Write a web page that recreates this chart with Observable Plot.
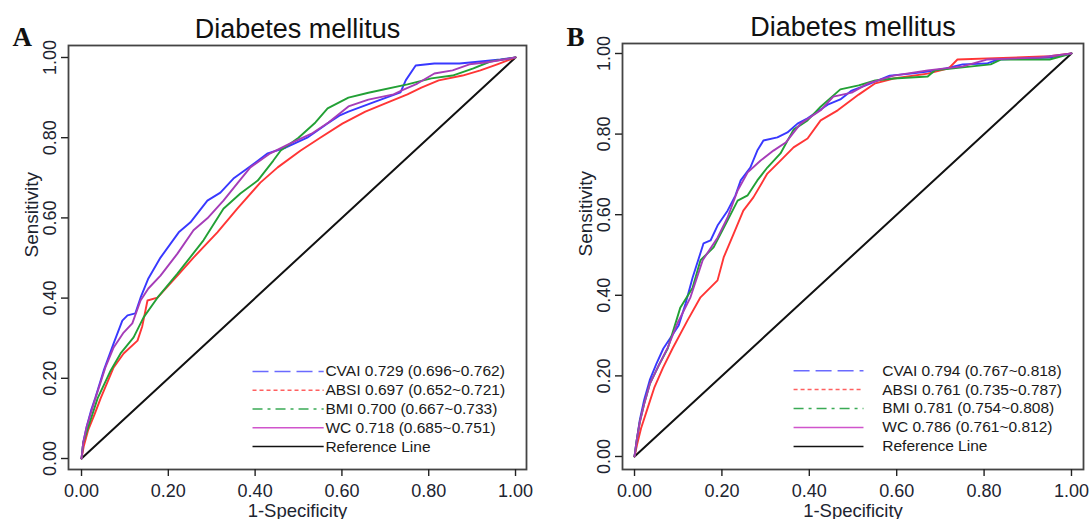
<!DOCTYPE html>
<html><head><meta charset="utf-8">
<script src="https://cdn.jsdelivr.net/npm/d3@7"></script>
<script src="https://cdn.jsdelivr.net/npm/@observablehq/plot@0.6"></script>
<style>
html,body{margin:0;padding:0;background:#fff;}
#wrap{position:relative;width:1090px;height:519px;overflow:hidden;background:#fff;}
#wrap > svg{position:absolute;top:0;overflow:visible;}
</style></head><body><div id="wrap"></div>
<script>
// ---------- data ----------
const titleText = "Diabetes mellitus";
const xLabel = "1-Specificity";
const yLabel = "Sensitivity";
const tickValues = [0, 0.2, 0.4, 0.6, 0.8, 1];
const tickLabels = ["0.00", "0.20", "0.40", "0.60", "0.80", "1.00"];
const seriesNames = ["CVAI", "ABSI", "BMI", "WC"];
const curveColors = ["#3838ff", "#ff3535", "#22a035", "#a53cb8"];
const legendColors = ["#6a6aff", "#ff6060", "#3aaa55", "#d055cc", "#111111"];
const legendDash = ["16,6", "4,3", "10,5,3,5", null, null];
const referenceLine = [[0, 0], [1, 1]];

const labelsA = ["CVAI 0.729 (0.696~0.762)", "ABSI 0.697 (0.652~0.721)", "BMI 0.700 (0.667~0.733)", "WC 0.718 (0.685~0.751)", "Reference Line"];
const labelsB = ["CVAI 0.794 (0.767~0.818)", "ABSI 0.761 (0.735~0.787)", "BMI 0.781 (0.754~0.808)", "WC 0.786 (0.761~0.812)", "Reference Line"];

// Panel A ROC points [1-specificity, sensitivity]
const A_CVAI = [[0,0],[0.004,0.04],[0.012,0.08],[0.022,0.12],[0.032,0.152],[0.051,0.219],[0.074,0.287],[0.094,0.344],[0.106,0.357],[0.124,0.362],[0.136,0.401],[0.154,0.449],[0.182,0.501],[0.224,0.564],[0.251,0.589],[0.290,0.643],[0.320,0.663],[0.350,0.698],[0.382,0.723],[0.429,0.761],[0.47,0.775],[0.52,0.80],[0.566,0.835],[0.594,0.855],[0.615,0.865],[0.677,0.890],[0.735,0.913],[0.747,0.943],[0.770,0.980],[0.813,0.985],[0.871,0.985],[0.919,0.990],[0.965,0.995],[1,1]];
const A_ABSI = [[0,0],[0.005,0.03],[0.015,0.07],[0.03,0.11],[0.044,0.150],[0.074,0.227],[0.097,0.262],[0.129,0.294],[0.14,0.33],[0.152,0.394],[0.175,0.401],[0.221,0.456],[0.258,0.501],[0.313,0.564],[0.359,0.623],[0.412,0.688],[0.452,0.726],[0.505,0.768],[0.55,0.80],[0.601,0.835],[0.654,0.865],[0.710,0.890],[0.751,0.908],[0.783,0.925],[0.823,0.943],[0.878,0.955],[0.919,0.968],[0.958,0.983],[1,1]];
const A_BMI = [[0,0],[0.004,0.04],[0.01,0.06],[0.022,0.10],[0.037,0.150],[0.067,0.219],[0.090,0.262],[0.120,0.302],[0.143,0.352],[0.175,0.401],[0.221,0.461],[0.281,0.544],[0.327,0.623],[0.366,0.661],[0.406,0.693],[0.442,0.743],[0.459,0.768],[0.50,0.80],[0.539,0.838],[0.567,0.873],[0.615,0.900],[0.661,0.912],[0.751,0.933],[0.806,0.948],[0.855,0.955],[0.903,0.973],[0.942,0.990],[1,1]];
const A_WC = [[0,0],[0.004,0.04],[0.012,0.08],[0.022,0.115],[0.032,0.150],[0.055,0.227],[0.074,0.277],[0.097,0.314],[0.117,0.337],[0.136,0.394],[0.154,0.424],[0.182,0.456],[0.221,0.511],[0.258,0.569],[0.290,0.599],[0.327,0.643],[0.359,0.686],[0.389,0.726],[0.435,0.761],[0.48,0.785],[0.53,0.81],[0.569,0.838],[0.615,0.878],[0.661,0.895],[0.719,0.908],[0.742,0.920],[0.774,0.935],[0.813,0.960],[0.855,0.968],[0.894,0.983],[0.935,0.988],[1,1]];

// Panel B ROC points
const B_CVAI = [[0,0],[0.005,0.04],[0.012,0.09],[0.022,0.14],[0.035,0.19],[0.05,0.23],[0.066,0.268],[0.101,0.325],[0.117,0.380],[0.133,0.444],[0.158,0.529],[0.174,0.536],[0.190,0.573],[0.213,0.610],[0.231,0.648],[0.243,0.685],[0.265,0.717],[0.281,0.759],[0.295,0.784],[0.327,0.792],[0.350,0.804],[0.373,0.826],[0.396,0.839],[0.442,0.873],[0.471,0.886],[0.497,0.908],[0.529,0.921],[0.584,0.945],[0.632,0.950],[0.671,0.955],[0.712,0.963],[0.751,0.973],[0.806,0.975],[0.831,0.985],[0.950,0.990],[1,1]];
const B_ABSI = [[0,0],[0.006,0.03],[0.015,0.07],[0.03,0.12],[0.045,0.17],[0.065,0.22],[0.087,0.268],[0.121,0.337],[0.151,0.395],[0.190,0.437],[0.204,0.494],[0.227,0.553],[0.249,0.610],[0.272,0.643],[0.304,0.702],[0.334,0.734],[0.364,0.767],[0.396,0.789],[0.426,0.834],[0.465,0.859],[0.494,0.883],[0.513,0.898],[0.551,0.926],[0.593,0.938],[0.671,0.950],[0.719,0.963],[0.739,0.985],[0.950,0.993],[1,1]];
const B_BMI = [[0,0],[0.005,0.04],[0.012,0.085],[0.022,0.13],[0.035,0.18],[0.055,0.225],[0.076,0.268],[0.105,0.370],[0.133,0.419],[0.151,0.487],[0.181,0.519],[0.213,0.586],[0.236,0.635],[0.259,0.648],[0.281,0.685],[0.304,0.717],[0.334,0.752],[0.364,0.811],[0.396,0.834],[0.426,0.868],[0.471,0.911],[0.513,0.921],[0.551,0.933],[0.593,0.938],[0.671,0.943],[0.687,0.958],[0.815,0.973],[0.838,0.985],[0.950,0.985],[1,1]];
const B_WC = [[0,0],[0.005,0.04],[0.012,0.085],[0.022,0.13],[0.035,0.18],[0.055,0.225],[0.076,0.270],[0.098,0.330],[0.128,0.395],[0.156,0.487],[0.190,0.543],[0.213,0.593],[0.236,0.660],[0.259,0.705],[0.288,0.734],[0.318,0.759],[0.346,0.779],[0.380,0.826],[0.426,0.859],[0.455,0.893],[0.497,0.903],[0.535,0.926],[0.593,0.945],[0.671,0.958],[0.751,0.968],[0.806,0.985],[0.927,0.990],[1,1]];

// ---------- drawing ----------
const FONT = "'Liberation Sans', Arial, Helvetica, sans-serif";
const fmtTick = d => tickLabels[tickValues.findIndex(v => Math.abs(v - d) < 1e-9)];

function panel(cfg) {
  const curves = cfg.curves;
  const legendRows = cfg.labels.map((label, i) => ({
    label, y: cfg.legendY0 - i * cfg.legendStep,
    x1: cfg.legendX[0], x2: cfg.legendX[1], tx: cfg.legendX[2],
    color: legendColors[i], dash: legendDash[i]
  }));
  const marks = [
    Plot.frame({stroke: "#444", strokeWidth: 1.8}),
    Plot.axisX({ticks: tickValues, tickFormat: fmtTick, tickSize: 7, tickPadding: 8, label: null, fontSize: 18, stroke: "#222", strokeWidth: 1.4, fill: "#1d2430"}),
    Plot.axisY({ticks: tickValues, tickFormat: fmtTick, tickSize: 7, tickPadding: 6, tickRotate: -90, label: null, fontSize: 18, stroke: "#222", strokeWidth: 1.4, fill: "#1d2430"}),
    Plot.line(referenceLine, {x: d => d[0], y: d => d[1], stroke: "#111", strokeWidth: 2})
  ];
  curves.forEach((c, i) => {
    marks.push(Plot.line(c, {x: d => d[0], y: d => d[1], stroke: curveColors[i], strokeWidth: 1.9}));
  });
  legendRows.forEach(r => {
    marks.push(Plot.link([r], {x1: "x1", x2: "x2", y1: "y", y2: "y", stroke: r.color, strokeWidth: 1.5, strokeDasharray: r.dash || undefined}));
  });
  marks.push(Plot.text(legendRows, {x: "tx", y: "y", text: "label", textAnchor: "start", lineAnchor: "middle", fontSize: 15.5, fill: "#1a1a1a"}));
  marks.push(Plot.text([titleText], {frameAnchor: "top", dy: -8, lineAnchor: "bottom", fontSize: 27, fill: "#111"}));
  marks.push(Plot.text([xLabel], {frameAnchor: "bottom", dy: 47, lineAnchor: "bottom", fontSize: 18.5, fill: "#1d2430"}));
  marks.push(Plot.text([yLabel], {frameAnchor: "left", dx: -31, rotate: -90, lineAnchor: "bottom", fontSize: 19, fill: "#1d2430"}));
  marks.push(Plot.text([cfg.letter], {frameAnchor: "top-left", dx: cfg.letterDx, dy: cfg.letterDy, textAnchor: "start", lineAnchor: "bottom", fontSize: 27, fontWeight: "bold", fontFamily: "'Liberation Serif', 'Times New Roman', serif", fill: "#111"}));

  const svg = Plot.plot({
    width: 545, height: 519,
    marginLeft: cfg.margins[0], marginRight: cfg.margins[1], marginTop: cfg.margins[2], marginBottom: cfg.margins[3],
    x: {domain: cfg.xDomain},
    y: {domain: cfg.yDomain},
    style: {fontFamily: FONT, fontSize: "18px", background: "transparent", overflow: "visible", color: "#1d2430"},
    marks
  });
  svg.style.left = cfg.left + "px";
  return svg;
}

const wrap = document.getElementById("wrap");
wrap.appendChild(panel({
  left: 0, margins: [68, 19, 45, 50],
  xDomain: [-0.030, 1.0253], yDomain: [-0.0274, 1.0299],
  curves: [A_CVAI, A_ABSI, A_BMI, A_WC], labels: labelsA,
  legendY0: 0.217, legendStep: 0.0468, legendX: [0.394, 0.558, 0.562],
  letter: "A", letterDx: -56, letterDy: 0
}));
wrap.appendChild(panel({
  left: 545, margins: [77, 7, 43, 50],
  xDomain: [-0.0275, 1.0275], yDomain: [-0.0323, 1.0248],
  curves: [B_CVAI, B_ABSI, B_BMI, B_WC], labels: labelsB,
  legendY0: 0.213, legendStep: 0.047, legendX: [0.364, 0.524, 0.567],
  letter: "B", letterDx: -56, letterDy: 2
}));
</script></body></html>
